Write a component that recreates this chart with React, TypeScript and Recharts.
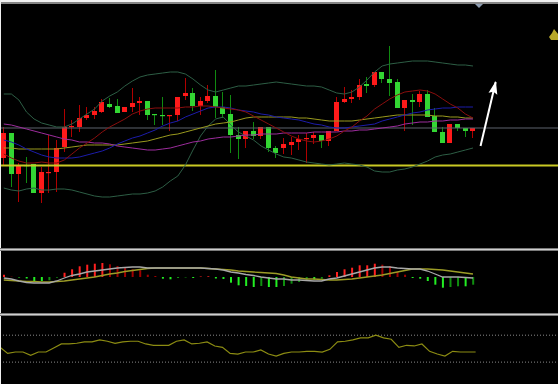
import React from 'react';
import { ComposedChart, Bar, Line, XAxis, YAxis, ReferenceLine, Cell } from 'recharts';

// ---- Candles (price units) ----
const candleOpen = [9.2, 11.7, 7.6, 8.5, 8.6, 5.7, 7.7, 7.8, 10.3, 12.3, 12.3, 13.2, 13.5, 13.8, 14.6, 14.4, 13.8, 14.3, 14.7, 14.9, 13.6, 13.5, 13.4, 13.5, 15.4, 15.7, 14.4, 14.9, 15.4, 14.3, 13.6, 11.5, 11.1, 11.9, 11.4, 12.3, 10.2, 10.2, 10.5, 10.8, 11.1, 11.2, 11.5, 10.9, 11.9, 14.8, 15.1, 15.3, 16.6, 16.5, 17.8, 17.1, 16.8, 14.2, 15.0, 14.8, 15.6, 13.4, 11.8, 10.7, 12.6, 12.2, 11.9];
const candleClose = [11.7, 7.6, 8.5, 8.4, 5.7, 7.8, 7.8, 10.2, 12.3, 12.4, 13.2, 13.5, 13.9, 14.8, 14.3, 13.7, 14.3, 14.7, 14.9, 13.5, 13.5, 13.4, 13.5, 15.3, 15.7, 14.4, 14.9, 15.4, 14.3, 13.6, 11.5, 11.1, 11.9, 11.4, 12.3, 10.2, 9.7, 10.6, 10.8, 11.1, 11.2, 11.5, 10.9, 11.9, 14.8, 15.1, 15.3, 16.5, 16.4, 17.8, 17.1, 16.7, 14.2, 15.0, 14.8, 15.6, 13.3, 11.8, 10.7, 12.6, 12.2, 11.9, 12.2];
const candleHigh = [12.3, 11.7, 8.7, 9.3, 8.6, 8.3, 11.5, 11.0, 14.1, 13.0, 14.5, 14.3, 14.3, 15.1, 15.2, 15.1, 14.3, 16.2, 15.3, 14.9, 13.6, 15.3, 13.5, 15.3, 17.2, 16.2, 15.3, 16.5, 18.0, 15.8, 15.5, 12.3, 11.9, 12.8, 12.3, 12.3, 10.4, 11.2, 11.3, 11.5, 11.7, 11.8, 11.5, 11.9, 15.3, 16.3, 16.0, 17.1, 17.3, 17.8, 17.8, 20.4, 17.1, 15.0, 15.6, 15.9, 16.0, 14.2, 12.3, 12.6, 12.6, 12.2, 12.2];
const candleLow = [8.5, 6.3, 4.8, 6.7, 5.7, 4.7, 5.7, 5.8, 9.8, 11.3, 11.8, 13.0, 13.1, 13.7, 14.2, 13.7, 13.8, 13.8, 13.5, 13.0, 12.5, 12.5, 11.9, 12.9, 15.0, 13.9, 13.5, 14.7, 13.2, 13.2, 9.7, 9.1, 10.2, 11.1, 11.1, 9.8, 9.2, 9.6, 9.5, 10.0, 8.7, 10.6, 10.2, 10.4, 11.9, 14.7, 14.7, 15.0, 15.7, 16.3, 16.7, 15.4, 14.2, 11.9, 12.5, 14.3, 13.3, 11.8, 10.7, 10.7, 11.9, 11.3, 11.2];

// ---- Main indicators ----
const bollUpper = [15.6, 15.6, 15.0, 13.8, 13.1, 12.7, 12.5, 12.3, 12.3, 12.6, 13.1, 13.6, 14.1, 14.9, 15.4, 15.8, 16.4, 16.9, 17.3, 17.5, 17.6, 17.7, 17.8, 17.8, 17.6, 17.1, 16.5, 16.0, 15.8, 16.0, 16.2, 16.4, 16.4, 16.5, 16.6, 16.7, 16.8, 16.7, 16.6, 16.5, 16.4, 16.4, 16.3, 16.0, 15.7, 15.6, 15.8, 16.3, 17.0, 17.8, 18.4, 18.6, 18.7, 18.8, 18.9, 18.9, 18.9, 18.8, 18.7, 18.6, 18.5, 18.5, 18.4];
const bollLower = [6.2, 6.0, 5.9, 6.1, 6.2, 6.0, 6.0, 6.1, 6.1, 6.0, 5.8, 5.6, 5.4, 5.3, 5.3, 5.4, 5.5, 5.6, 5.6, 5.7, 5.9, 6.3, 6.9, 7.4, 8.5, 10.0, 11.4, 12.4, 13.1, 13.3, 12.5, 11.8, 11.4, 11.0, 10.4, 10.0, 9.6, 9.3, 9.2, 9.0, 8.8, 8.7, 8.6, 8.5, 8.6, 8.7, 8.6, 8.5, 8.3, 7.9, 7.8, 7.8, 8.0, 8.1, 8.3, 8.6, 8.9, 9.3, 9.5, 9.6, 9.8, 10.0, 10.2];
const bollMid = [9.6, 9.2, 8.9, 8.7, 8.7, 8.8, 8.7, 8.7, 9.0, 9.6, 10.2, 10.7, 11.2, 11.8, 12.3, 12.7, 13.1, 13.6, 13.9, 14.1, 14.2, 14.2, 14.2, 14.2, 14.3, 14.3, 14.4, 14.4, 14.3, 14.2, 14.1, 14.0, 13.8, 13.4, 13.0, 12.6, 12.2, 11.8, 11.4, 11.1, 10.9, 10.8, 10.9, 11.1, 11.4, 11.9, 12.3, 12.9, 13.4, 14.1, 14.6, 15.1, 15.5, 15.8, 15.9, 16.0, 15.9, 15.6, 15.1, 14.6, 14.2, 13.6, 13.2];
const maBlue = [11.0, 10.8, 10.5, 10.1, 9.8, 9.5, 9.3, 9.2, 9.2, 9.2, 9.3, 9.5, 9.7, 9.9, 10.2, 10.6, 10.9, 11.2, 11.4, 11.7, 12.0, 12.4, 12.7, 12.9, 13.3, 13.6, 13.9, 14.2, 14.3, 14.3, 14.2, 14.0, 13.9, 13.8, 13.6, 13.5, 13.3, 13.2, 13.1, 13.0, 12.8, 12.6, 12.5, 12.3, 12.2, 12.2, 12.3, 12.4, 12.5, 12.6, 12.9, 13.1, 13.3, 13.5, 13.7, 13.8, 14.0, 14.1, 14.2, 14.2, 14.3, 14.3, 14.3];
const maPurple = [12.6, 12.5, 12.3, 12.1, 11.9, 11.7, 11.5, 11.3, 11.1, 11.0, 10.8, 10.8, 10.7, 10.7, 10.6, 10.4, 10.3, 10.2, 10.1, 10.0, 10.0, 10.1, 10.2, 10.4, 10.6, 10.8, 10.9, 11.1, 11.2, 11.3, 11.3, 11.4, 11.5, 11.5, 11.6, 11.6, 11.6, 11.7, 11.7, 11.7, 11.7, 11.8, 11.8, 11.8, 11.8, 11.9, 11.9, 12.0, 12.0, 12.1, 12.2, 12.3, 12.4, 12.6, 12.7, 12.8, 12.8, 12.9, 12.9, 13.0, 13.0, 13.1, 13.1];
const maOlive = [10.2, 10.2, 10.1, 10.1, 10.1, 10.1, 10.1, 10.1, 10.2, 10.3, 10.4, 10.5, 10.5, 10.5, 10.5, 10.5, 10.6, 10.7, 10.8, 10.9, 11.1, 11.3, 11.5, 11.6, 11.8, 12.0, 12.2, 12.4, 12.6, 12.7, 12.8, 13.0, 13.2, 13.3, 13.3, 13.3, 13.3, 13.3, 13.3, 13.2, 13.2, 13.1, 13.0, 12.9, 12.9, 12.9, 12.9, 13.0, 13.1, 13.2, 13.3, 13.4, 13.5, 13.5, 13.5, 13.5, 13.5, 13.4, 13.4, 13.3, 13.3, 13.2, 13.2];
const grayLevel = 12.2;
const yellowLevel = 8.45;
const arrowStart = 10.4;
const arrowEnd = 16.8;

// ---- MACD ----
const macdDif = [-0.01, -0.02, -0.04, -0.055, -0.06, -0.06, -0.06, -0.04, -0.01, 0.015, 0.03, 0.05, 0.06, 0.07, 0.08, 0.09, 0.095, 0.10, 0.10, 0.09, 0.09, 0.09, 0.09, 0.09, 0.09, 0.09, 0.09, 0.085, 0.08, 0.07, 0.05, 0.04, 0.025, 0.015, 0.0, -0.01, -0.02, -0.02, -0.03, -0.03, -0.035, -0.04, -0.04, -0.02, -0.01, 0.01, 0.03, 0.05, 0.07, 0.09, 0.10, 0.10, 0.09, 0.085, 0.08, 0.08, 0.06, 0.03, 0.0, 0.0, 0.0, -0.005, -0.01];
const macdDea = [-0.03, -0.035, -0.04, -0.045, -0.045, -0.05, -0.05, -0.045, -0.04, -0.03, -0.02, -0.01, 0.0, 0.015, 0.03, 0.04, 0.055, 0.065, 0.075, 0.085, 0.09, 0.09, 0.09, 0.09, 0.09, 0.09, 0.09, 0.085, 0.08, 0.075, 0.07, 0.06, 0.055, 0.05, 0.045, 0.04, 0.035, 0.02, 0.0, -0.01, -0.02, -0.02, -0.025, -0.03, -0.03, -0.025, -0.02, -0.01, 0.0, 0.01, 0.02, 0.035, 0.05, 0.065, 0.08, 0.08, 0.08, 0.075, 0.07, 0.06, 0.05, 0.04, 0.03];
const macdHist = [0.023, 0.003, -0.005, -0.015, -0.04, -0.04, -0.033, -0.007, 0.043, 0.077, 0.107, 0.123, 0.133, 0.14, 0.127, 0.11, 0.09, 0.077, 0.067, 0.023, 0.01, -0.017, -0.023, -0.01, -0.005, -0.01, 0.005, 0.007, -0.015, -0.02, -0.057, -0.083, -0.09, -0.10, -0.09, -0.10, -0.10, -0.09, -0.067, -0.05, -0.027, -0.027, -0.017, 0.017, 0.05, 0.077, 0.093, 0.117, 0.117, 0.133, 0.123, 0.11, 0.05, 0.023, -0.01, -0.017, -0.04, -0.077, -0.107, -0.10, -0.093, -0.093, -0.077];

// ---- RSI ----
const rsi = [52, 43, 45, 45, 40, 45, 45, 51, 57, 57, 58, 60, 60, 63, 61, 58, 60, 61, 61, 57, 55, 55, 55, 61, 63, 57, 58, 60, 54, 52, 43, 42, 45, 45, 48, 42, 39, 43, 45, 45, 46, 46, 45, 49, 60, 61, 63, 66, 66, 70, 66, 64, 52, 55, 54, 57, 46, 42, 39, 46, 45, 45, 45];
const rsiHigh = 70;
const rsiLow = 30;

const SLOTS = 74;
const ARROW_FROM = 63;
const ARROW_TO = 65;

const data = Array.from({ length: SLOTS }, (_, i) => {
  const has = i < candleOpen.length;
  const prev = i > 0 ? macdHist[i - 1] : 0;
  const hv = has ? macdHist[i] : null;
  let hc = '#ff2020';
  if (hv != null) {
    if (hv >= 0) hc = hv >= prev ? '#ff2020' : '#a00000';
    else hc = hv <= prev ? '#22ee22' : '#0f8f0f';
  }
  return {
    i,
    o: has ? candleOpen[i] : null,
    c: has ? candleClose[i] : null,
    h: has ? candleHigh[i] : null,
    l: has ? candleLow[i] : null,
    up: has ? bollUpper[i] : null,
    lo: has ? bollLower[i] : null,
    mid: has ? bollMid[i] : null,
    blue: has ? maBlue[i] : null,
    purple: has ? maPurple[i] : null,
    olive: has ? maOlive[i] : null,
    dif: has ? macdDif[i] : null,
    dea: has ? macdDea[i] : null,
    hist: hv,
    histColor: hc,
    rsi: has ? rsi[i] : null,
    arrow: i === ARROW_FROM ? arrowStart : i === ARROW_TO ? arrowEnd : null,
  };
});

const Candle = (props: any) => {
  const { x, y, width, height, payload } = props;
  if (!payload || payload.h == null || x == null) return null;
  const { o, c, h, l } = payload;
  const top = Math.min(y, y + height);
  const ph = Math.abs(height);
  const range = h - l;
  const toY = (v: number) => (range > 0 ? top + ((h - v) / range) * ph : top);
  const rising = c >= o;
  const bTop = toY(Math.max(o, c));
  const bBot = toY(Math.min(o, c));
  const cx = Math.floor(x + width / 2);
  const bx = Math.round(x);
  const bw = Math.round(width);
  return (
    <g>
      <rect x={cx} y={top} width={1} height={Math.max(1, ph)} fill={rising ? '#b00000' : '#108a10'} />
      <rect x={bx} y={bTop} width={bw} height={Math.max(1.2, bBot - bTop)} fill={rising ? '#ff1a1a' : '#33d633'} />
    </g>
  );
};

const ArrowDot = (props: any) => {
  const { cx, cy, index } = props;
  if (index !== ARROW_TO || cx == null) return <g key={`ad${index}`} />;
  return (
    <g key={`ad${index}`} transform={`translate(${cx},${cy}) rotate(13.3)`}>
      <polygon points="0,-1 -4.5,12 0,10 4.5,12" fill="#ffffff" />
    </g>
  );
};

const W = 560;
const margin = { top: 0, right: 0, bottom: 0, left: 0 };

const Sep = ({ top }: { top: number }) => (
  <div style={{ position: 'absolute', left: 0, top, width: 558, height: 3 }}>
    <div style={{ height: 1, background: '#7a7a7a' }} />
    <div style={{ height: 1, background: '#cfcfcf' }} />
    <div style={{ height: 1, background: '#7a7a7a' }} />
  </div>
);

export default function App() {
  return (
    <div style={{ position: 'absolute', left: 0, top: 0, width: 558, height: 384, overflow: 'hidden', background: '#000' }}>
      <div style={{ position: 'absolute', left: 0, top: 0 }}>
        <ComposedChart width={W} height={249} data={data} margin={margin}>
          <XAxis dataKey="i" hide />
          <YAxis hide domain={[0.1, 25]} />
          <ReferenceLine y={grayLevel} stroke="#5d626c" strokeWidth={1} />
          <ReferenceLine y={yellowLevel} stroke="#c9c924" strokeWidth={2} />
          <Line dataKey="up" stroke="#2d5e45" strokeWidth={1} dot={false} activeDot={false} isAnimationActive={false} />
          <Line dataKey="lo" stroke="#2d5e45" strokeWidth={1} dot={false} activeDot={false} isAnimationActive={false} />
          <Line dataKey="olive" stroke="#9a9a1e" strokeWidth={1} dot={false} activeDot={false} isAnimationActive={false} />
          <Line dataKey="purple" stroke="#9c2c9c" strokeWidth={1} dot={false} activeDot={false} isAnimationActive={false} />
          <Line dataKey="blue" stroke="#1c1caa" strokeWidth={1} dot={false} activeDot={false} isAnimationActive={false} />
          <Line dataKey="mid" stroke="#8a0e0e" strokeWidth={1} dot={false} activeDot={false} isAnimationActive={false} />
          <Bar
            dataKey={(d: any) => (d.h == null ? null : [d.l, d.h])}
            barSize={5}
            shape={(p: any) => <Candle {...p} />}
            isAnimationActive={false}
          />
          <Line dataKey="arrow" stroke="#ffffff" strokeWidth={2} connectNulls dot={(p: any) => <ArrowDot {...p} />} activeDot={false} isAnimationActive={false} />
        </ComposedChart>
      </div>
      <div style={{ position: 'absolute', left: 0, top: 250 }}>
        <ComposedChart width={W} height={64} data={data} margin={margin}>
          <XAxis dataKey="i" hide />
          <YAxis hide domain={[-0.37, 0.27]} />
          <Bar dataKey="hist" barSize={2} isAnimationActive={false}>
            {data.map((d) => (
              <Cell key={d.i} fill={d.histColor} />
            ))}
          </Bar>
          <Line dataKey="dea" stroke="#9c9c26" strokeWidth={1.3} dot={false} activeDot={false} isAnimationActive={false} />
          <Line dataKey="dif" stroke="#a8a8a8" strokeWidth={1.3} dot={false} activeDot={false} isAnimationActive={false} />
        </ComposedChart>
      </div>
      <div style={{ position: 'absolute', left: 0, top: 315 }}>
        <ComposedChart width={W} height={69} data={data} margin={margin}>
          <XAxis dataKey="i" hide />
          <YAxis hide domain={[-2.5, 100]} />
          <ReferenceLine y={rsiHigh} stroke="#8a8a8a" strokeDasharray="1 2" />
          <ReferenceLine y={rsiLow} stroke="#8a8a8a" strokeDasharray="1 2" />
          <Line dataKey="rsi" stroke="#8c8c12" strokeWidth={1.2} dot={false} activeDot={false} isAnimationActive={false} />
        </ComposedChart>
      </div>
      {/* frame */}
      <div style={{ position: 'absolute', left: 0, top: 0, width: 558, height: 2, background: '#f2f2f2' }} />
      <div style={{ position: 'absolute', left: 0, top: 2, width: 558, height: 2, background: '#858585' }} />
      <div style={{ position: 'absolute', left: 0, top: 0, width: 1, height: 384, background: '#eeeeee' }} />
      <Sep top={248} />
      <Sep top={313} />
      {/* current-bar marker */}
      <div style={{ position: 'absolute', left: 475, top: 4, width: 0, height: 0, borderLeft: '4.5px solid transparent', borderRight: '4.5px solid transparent', borderTop: '4px solid #8e9db2' }} />
      <svg style={{ position: 'absolute', left: 549, top: 29 }} width={9} height={12}>
        <polygon points="5,0 9,5 9,11 2,11 0,8 3,4" fill="#b8a82a" />
      </svg>
    </div>
  );
}
